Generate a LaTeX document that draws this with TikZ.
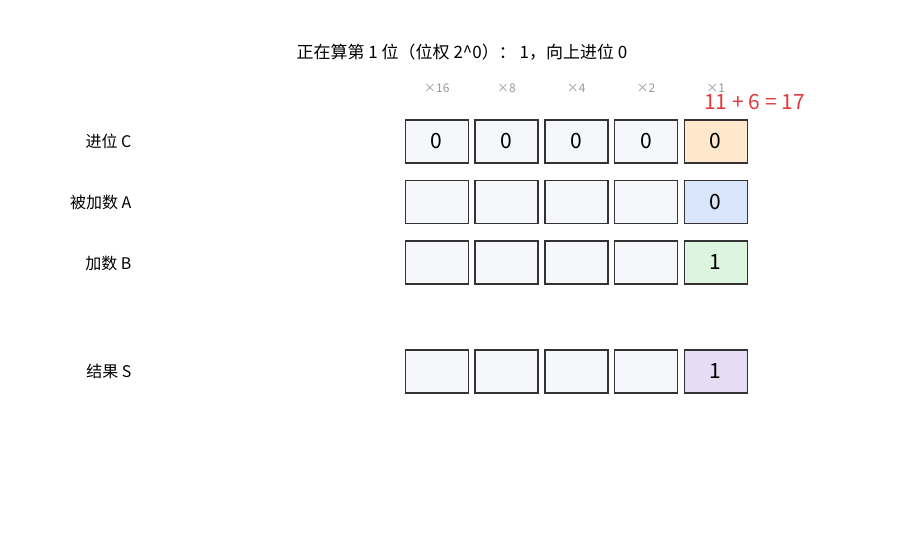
\documentclass[tikz,border=0pt]{standalone}
\usepackage{fontspec}
\setmainfont{Noto Sans CJK SC}
\definecolor{cellgray}{HTML}{F5F7FA}
\definecolor{cellline}{HTML}{333333}
\definecolor{carryfill}{HTML}{FFE8CC}
\definecolor{afill}{HTML}{DAE6FC}
\definecolor{bfill}{HTML}{DDF4DF}
\definecolor{sfill}{HTML}{E6DCF4}
\definecolor{sumred}{HTML}{E03A3E}
\tikzset{
  cell/.style={draw=cellline, line width=1.5pt, fill=cellgray, minimum width=63pt, minimum height=43pt, inner sep=0pt, font=\fontsize{21}{24}\selectfont},
  rowlabel/.style={anchor=east, font=\fontsize{16}{19}\selectfont},
  weight/.style={text=gray!80, font=\fontsize{12}{14}\selectfont}
}
\begin{document}
\begin{tikzpicture}[x=1pt,y=-1pt]
	\useasboundingbox (0,0) rectangle (900,550);
	\node (title) at (462,52) {\fontsize{17}{20}\selectfont 正在算第 1 位（位权 2\^{}0）： 1，向上进位 0};
	% weights
	\foreach \w [count=\i] in {16,8,4,2,1}
		\node [weight] (w\i) at (367+69.75*\i,88) {×\w};
	\node [text=sumred, font=\fontsize{21}{24}\selectfont] (sum) at (754.5,102) {11 + 6 = 17};
	% rows
	\node [rowlabel] (lc) at (135,141) {进位 C};
	\node [rowlabel] (la) at (135,202) {被加数 A};
	\node [rowlabel] (lb) at (135,263) {加数 B};
	\node [rowlabel] (ls) at (135,371) {结果 S};
	\foreach \i in {1,...,4} {
		\node [cell] (c\i) at (367+69.75*\i,141.5) {0};
		\node [cell] (a\i) at (367+69.75*\i,202) {};
		\node [cell] (b\i) at (367+69.75*\i,262.5) {};
		\node [cell] (s\i) at (367+69.75*\i,371.5) {};
	}
	\node [cell, fill=carryfill] (c5) at (715.75,141.5) {0};
	\node [cell, fill=afill] (a5) at (715.75,202) {0};
	\node [cell, fill=bfill] (b5) at (715.75,262.5) {1};
	\node [cell, fill=sfill] (s5) at (715.75,371.5) {1};
\end{tikzpicture}
\end{document}
